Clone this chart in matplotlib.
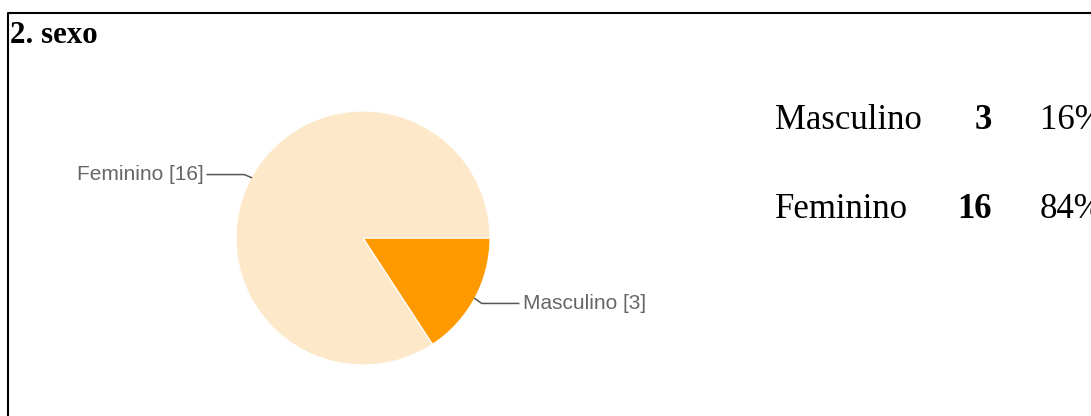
import matplotlib.pyplot as plt
import numpy as np

# dados
categorias = ['Masculino', 'Feminino']
valores = [3, 16]
percentuais = ['16%', '84%']
cores = ['#ff9900', '#fde9ca']
titulo = '2. sexo'

W, H = 1091, 416
fig = plt.figure(figsize=(W / 100, H / 100), dpi=100)
ax = fig.add_axes([0, 0, 1, 1])
ax.set_xlim(0, W)
ax.set_ylim(0, H)
ax.set_aspect('equal')
ax.axis('off')

# moldura (so topo e esquerda aparecem)
ax.plot([7.5, 7.5, W], [0, H - 12.5, H - 12.5], color='k', lw=1.5, solid_capstyle='butt')

# titulo
ax.text(10, H - 43, titulo, fontsize=22.3, fontweight='bold',
        family='Liberation Serif', va='baseline', ha='left')

# pizza
cx, cy, r = 363, H - 238, 127
wedges, _ = ax.pie(valores, colors=cores, startangle=0, counterclock=False,
                   center=(cx, cy), radius=r, frame=True,
                   wedgeprops=dict(edgecolor='white', linewidth=0.8))
ax.set_xlim(0, W)
ax.set_ylim(0, H)
ax.axis('off')

# rotulos com linhas guia
for w, cat, val in zip(wedges, categorias, valores):
    ang = np.deg2rad((w.theta1 + w.theta2) / 2)
    ex, ey = cx + r * np.cos(ang), cy + r * np.sin(ang)
    sx = np.sign(np.cos(ang))
    sy = np.sign(np.sin(ang))
    bx, by = ex + 7 * sx, ey + 2 * sy - (3 if sy < 0 else -1)
    tx = bx + 37 * sx
    ax.plot([ex, bx, tx], [ey, by, by], color='#555555', lw=1.1)
    ax.text(tx + 4 * sx, by, '%s [%d]' % (cat, val), fontsize=15,
            color='#666666', family='Liberation Sans',
            ha='left' if sx > 0 else 'right', va='center')

# tabela a direita
linhas_y = [H - 129, H - 218]
for yb, cat, val, pct in zip(linhas_y, categorias, valores, percentuais):
    ax.text(775, yb, cat, fontsize=25, family='Liberation Serif', va='baseline', ha='left')
    ax.text(992, yb, str(val), fontsize=25, family='Liberation Serif',
            fontweight='bold', va='baseline', ha='right')
    ax.text(1040, yb, pct, fontsize=25, family='Liberation Serif', va='baseline', ha='left')

fig.savefig('out.png', dpi=100)
